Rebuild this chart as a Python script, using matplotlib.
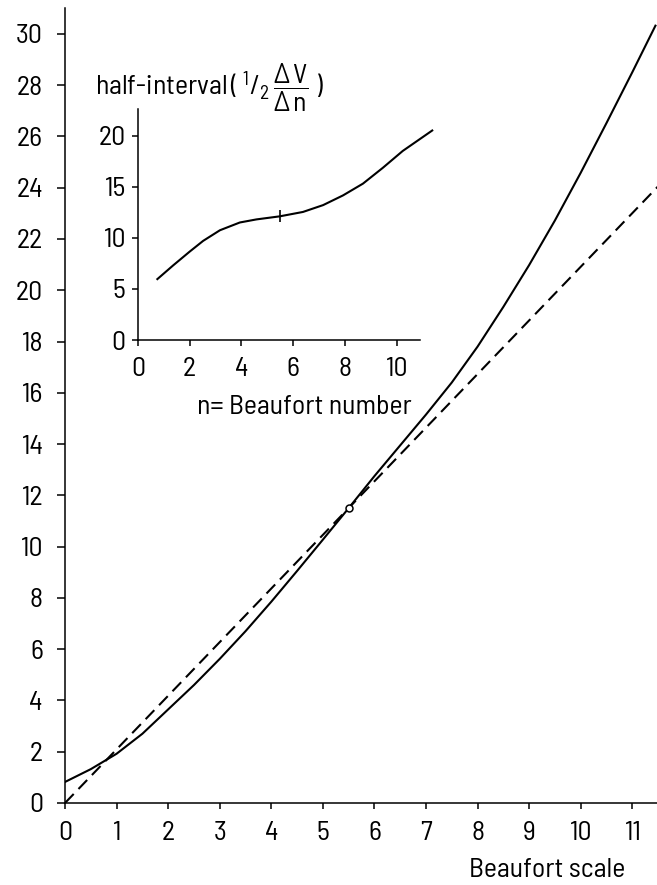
"""
Wind speed against Beaufort number, with an inset of the half-interval.
"""

import matplotlib
matplotlib.use("Agg")
import matplotlib.pyplot as plt


# ---------- data ----------
beaufort = [0, 0.5, 1, 1.5, 2, 2.5, 3, 3.5, 4, 4.5, 5, 5.5, 6, 6.5,
            7, 7.5, 8, 8.5, 9, 9.5, 10, 10.5, 11, 11.45]
speed = [0.82, 1.32, 1.92, 2.70, 3.65, 4.60, 5.62, 6.70, 7.85, 9.05, 10.27,
         11.5, 12.75, 13.95, 15.15, 16.4, 17.8, 19.35, 20.98, 22.72, 24.58,
         26.52, 28.5, 30.32]

# straight (dashed) approximation and the point where it touches the curve
linear_x = [0, 11.5]
linear_y = [0, 24.05]
touch_x = [5.5]
touch_y = [11.5]

# inset: half-interval 1/2 dV/dn against n
inset_n = [0.75, 1.36, 2.0, 2.52, 3.17, 3.94, 4.58, 5.48, 6.38, 7.16,
           7.93, 8.7, 9.47, 10.24, 11.38]
inset_half = [5.96, 7.3, 8.65, 9.7, 10.74, 11.5, 11.8, 12.1, 12.53,
              13.2, 14.15, 15.3, 16.85, 18.5, 20.5]
inset_mark_n = [5.48]
inset_mark_half = [12.1]

main_xticks = list(range(0, 12))
main_yticks = list(range(0, 31, 2))
inset_xticks = [0, 2, 4, 6, 8, 10]
inset_yticks = [0, 5, 10, 15, 20]


# ---------- style ----------
FONT = "Barlow Semi Condensed"
SIZE = 20
plt.rcParams["font.family"] = [FONT, "DejaVu Sans"]
plt.rcParams["font.size"] = SIZE
plt.rcParams["mathtext.fontset"] = "custom"
plt.rcParams["mathtext.rm"] = FONT
plt.rcParams["mathtext.it"] = FONT
plt.rcParams["mathtext.sf"] = FONT
plt.rcParams["axes.linewidth"] = 1.1

fig = plt.figure(figsize=(6.57, 8.85), dpi=100)

# ---------- main axes ----------
ax = fig.add_axes([0.099, 0.0927, 0.901, 0.898])
ax.plot(beaufort, speed, color="black", linewidth=1.5)
ax.plot(linear_x, linear_y, color="black", linewidth=1.5,
        linestyle=(0, (6, 3.3)))
ax.plot(touch_x, touch_y, "o", markersize=5, markerfacecolor="white",
        markeredgecolor="black", markeredgewidth=1.1, zorder=5)

ax.set_xlim(0, 11.48)
ax.set_ylim(0, 31.0)
ax.set_xticks(main_xticks)
ax.set_yticks(main_yticks)
ax.tick_params(axis="y", direction="out", length=6, width=1.1, pad=10)
ax.tick_params(axis="x", direction="out", length=4, width=1.1, pad=9)
for side in ("top", "right"):
    ax.spines[side].set_visible(False)

fig.text(0.833, 0.017, "Beaufort scale", ha="center", va="center",
         fontsize=SIZE)

# ---------- inset ----------
ins = fig.add_axes([0.210, 0.6158, 0.429, 0.261])
ins.patch.set_alpha(0)
ins.plot(inset_n, inset_half, color="black", linewidth=1.5, clip_on=False)
ins.plot(inset_mark_n, inset_mark_half, "|", color="black", markersize=9,
         markeredgewidth=1.2)
ins.set_xlim(0, 10.9)
ins.set_ylim(0, 22.6)
ins.set_xticks(inset_xticks)
ins.set_yticks(inset_yticks)
ins.tick_params(axis="y", direction="out", length=4, width=1.1, pad=5)
ins.tick_params(axis="x", direction="out", length=4, width=1.1, pad=8)
for side in ("top", "right"):
    ins.spines[side].set_visible(False)

fig.text(0.300, 0.540, "n= Beaufort number", ha="left", va="center",
         fontsize=SIZE)
fig.text(0.1446, 0.8927,
         r"half-interval$\,(\;{}^{1}/_{2}\,"
         r"\dfrac{\Delta\,\mathrm{V}}{\Delta\,\mathrm{n}}\;)$",
         ha="left", va="baseline", fontsize=SIZE)

fig.savefig("out.png", dpi=100)
plt.close(fig)
